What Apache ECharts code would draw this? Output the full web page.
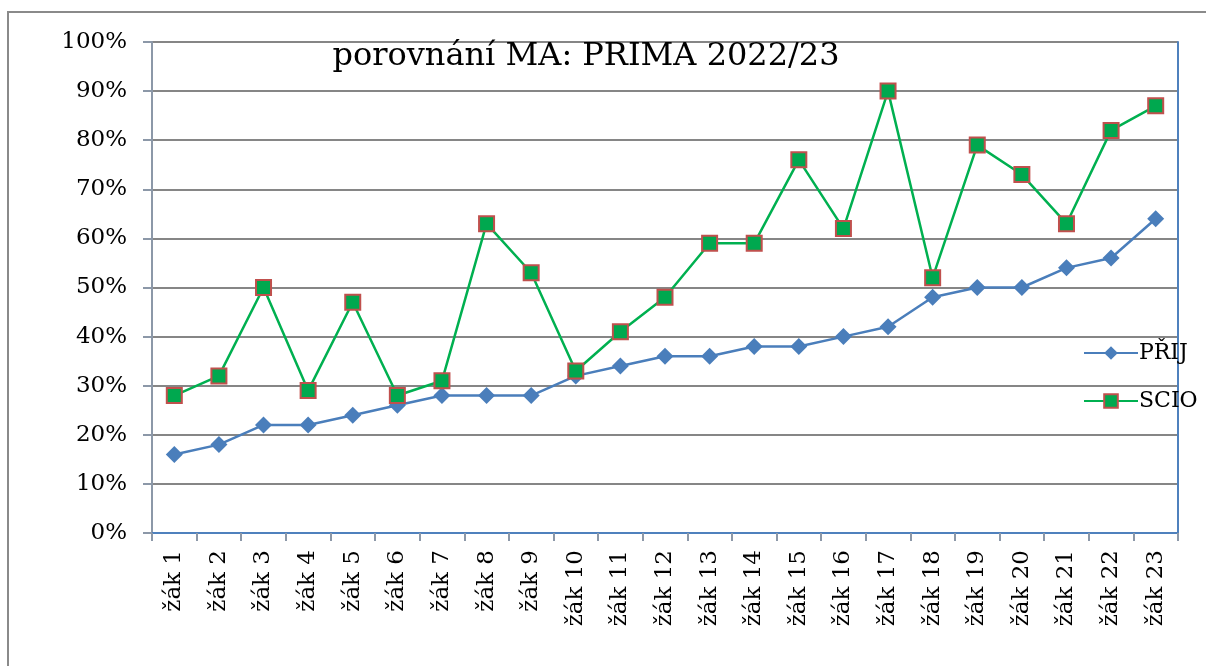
<!DOCTYPE html>
<html>
<head>
<meta charset="utf-8">
<script src="https://cdn.jsdelivr.net/npm/echarts@6/dist/echarts.min.js"></script>
<style>
  html, body { margin: 0; padding: 0; background: #fff; }
  #chart { width: 1206px; height: 666px; }
</style>
</head>
<body>
<div id="chart"></div>
<script>
// data
const students = ['žák 1', 'žák 2', 'žák 3', 'žák 4', 'žák 5', 'žák 6', 'žák 7', 'žák 8', 'žák 9', 'žák 10',
  'žák 11', 'žák 12', 'žák 13', 'žák 14', 'žák 15', 'žák 16', 'žák 17', 'žák 18', 'žák 19', 'žák 20',
  'žák 21', 'žák 22', 'žák 23']
const prij = [16, 18, 22, 22, 24, 26, 28, 28, 28, 32, 34, 36, 36, 38, 38, 40, 42, 48, 50, 50, 54, 56, 64]
const scio = [28, 32, 50, 29, 47, 28, 31, 63, 53, 33, 41, 48, 59, 59, 76, 62, 90, 52, 79, 73, 63, 82, 87]

const font = 'DejaVu Serif'
const chart = echarts.init(document.getElementById('chart'))
chart.setOption({
  animation: false,
  textStyle: { fontFamily: font },
  title: {
    text: 'porovnání MA: PRIMA 2022/23',
    left: 581,
    top: 36,
    textAlign: 'center',
    textStyle: { fontFamily: font, fontSize: 32, fontWeight: 'normal', color: '#000' }
  },
  legend: {
    orient: 'vertical',
    left: 1078,
    top: 337,
    itemGap: 26,
    itemWidth: 54,
    itemHeight: 17,
    textStyle: { fontFamily: font, fontSize: 22, color: '#000', padding: [0, 0, 0, -4] },
    data: ['PŘIJ', 'SCIO']
  },
  grid: { left: 152, right: 28, top: 42, bottom: 133 },
  xAxis: [
    {
      type: 'category',
      data: students,
      boundaryGap: true,
      axisLine: { lineStyle: { color: '#8c98a8', width: 2 } },
      axisTick: { show: true, length: 8, lineStyle: { color: '#8c98a8', width: 2 } },
      axisLabel: { rotate: 90, margin: 17, fontSize: 23, color: '#000', fontFamily: font }
    },
    {
      type: 'category',
      position: 'top',
      data: students,
      axisLine: { lineStyle: { color: '#4f81bd', width: 2 } },
      axisTick: { show: false },
      axisLabel: { show: false }
    }
  ],
  yAxis: [
    {
      type: 'value',
      min: 0,
      max: 100,
      interval: 10,
      axisLine: { show: true, lineStyle: { color: '#8c98a8', width: 2 } },
      axisTick: { show: true, length: 9, lineStyle: { color: '#8c98a8', width: 2 } },
      splitLine: { lineStyle: { color: '#868686', width: 2 } },
      axisLabel: { formatter: '{value}%', fontSize: 23, color: '#000', margin: 25, fontFamily: font }
    },
    {
      type: 'value',
      position: 'right',
      min: 0,
      max: 100,
      interval: 10,
      axisLine: { show: true, lineStyle: { color: '#4f81bd', width: 2 } },
      axisTick: { show: false },
      axisLabel: { show: false },
      splitLine: { show: false }
    }
  ],
  graphic: [
    {
      type: 'rect',
      shape: { x: 8, y: 12, width: 1230, height: 700 },
      style: { fill: 'none', stroke: '#8a8a8a', lineWidth: 2 },
      silent: true,
      z: -1
    }
  ],
  series: [
    {
      name: 'PŘIJ',
      type: 'line',
      data: prij,
      symbol: 'diamond',
      symbolSize: 17,
      lineStyle: { color: '#4a7ebb', width: 2.5 },
      itemStyle: { color: '#4a7ebb' }
    },
    {
      name: 'SCIO',
      type: 'line',
      data: scio,
      symbol: 'rect',
      symbolSize: 15,
      lineStyle: { color: '#00b050', width: 2.5 },
      itemStyle: { color: '#00a84f', borderColor: '#c0504d', borderWidth: 2 }
    }
  ]
})
</script>
</body>
</html>
